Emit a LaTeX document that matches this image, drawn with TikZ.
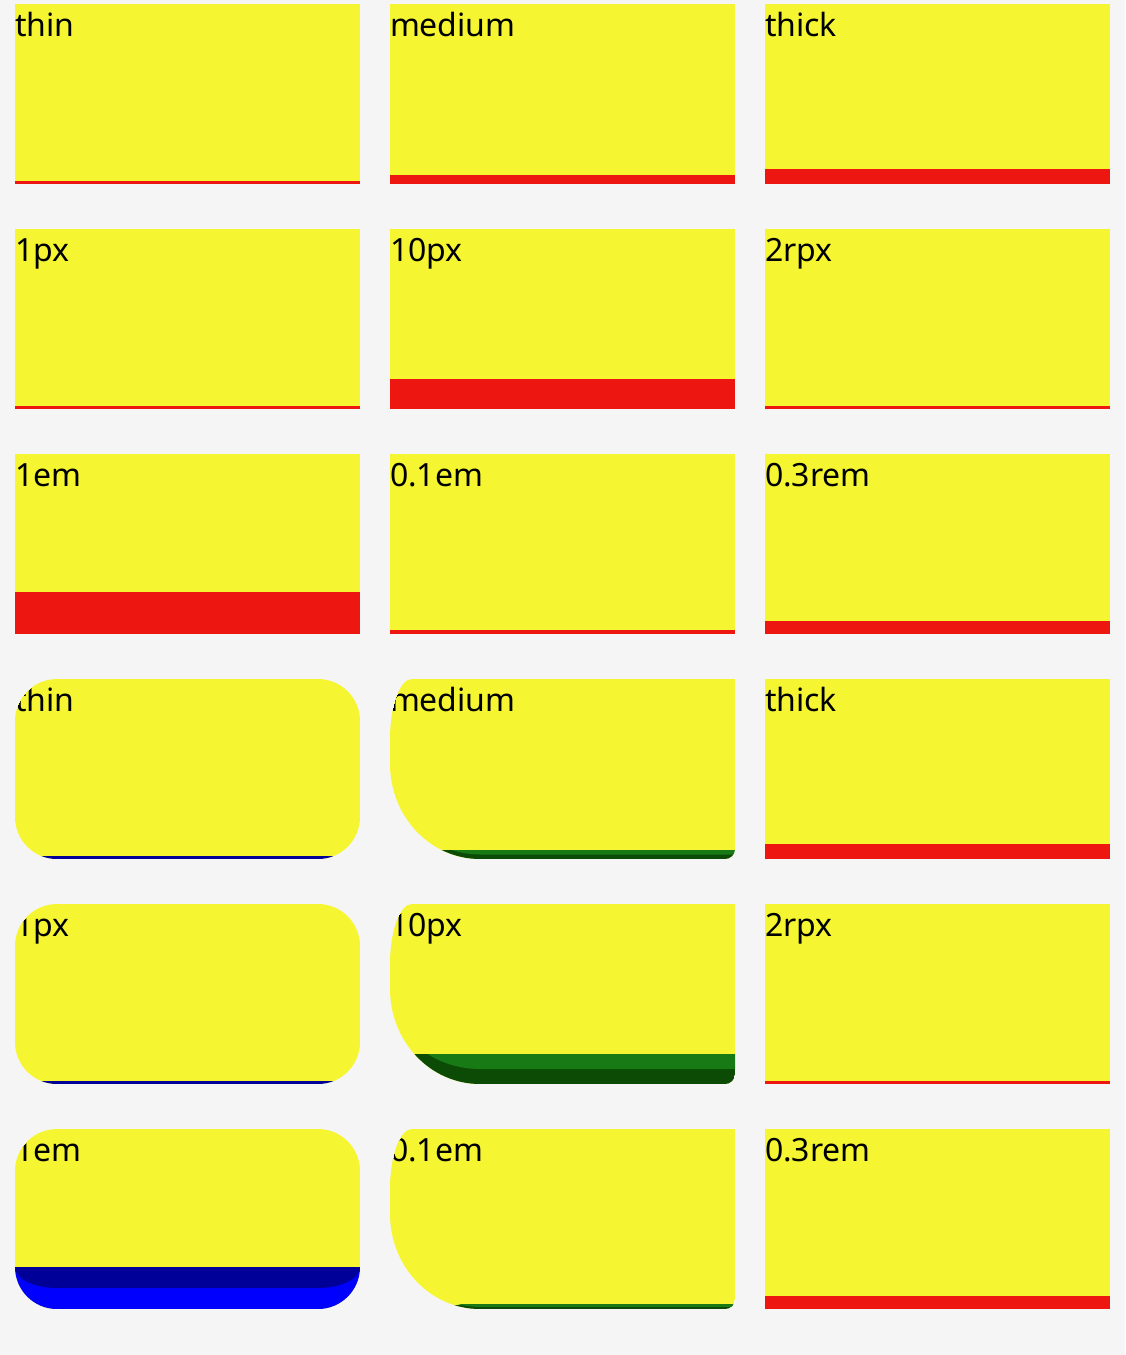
\documentclass[tikz,border=0pt]{standalone}
\usepackage{fontspec}
\setmainfont{Noto Sans}
\definecolor{bgc}{HTML}{F5F5F5}
\definecolor{yel}{HTML}{F5F532}
\definecolor{redc}{HTML}{EE1611}
\definecolor{blueD}{HTML}{000099}
\definecolor{blueL}{HTML}{0000FF}
\definecolor{greenL}{HTML}{187A14}
\definecolor{greenD}{HTML}{0B4B06}
\tikzset{
  lbl/.style={anchor=base west,inner sep=0pt,outer sep=0pt,font=\fontsize{32}{38}\selectfont,text=black},
  gshape/.style={insert path={(22,0) -- (345,0) -- (345,170) .. controls (345,175.5) and (340.5,180) .. (335,180) -- (90,180) .. controls (40.3,180) and (0,137.5) .. (0,85) -- (0,60) .. controls (0,27) and (9.8,0) .. (22,0) -- cycle}},
}
% plain box: x, y, band, label, name
\newcommand\myplain[5]{%
  \fill[yel] (#1,#2) rectangle ++(345,180);
  \fill[redc] (#1,#2+180-#3) rectangle (#1+345,#2+180);
  \node[lbl] (#5) at (#1,#2+32) {#4};
}
% rounded blue box (thin): x, y, label, name
\newcommand\myblue[4]{%
  \begin{scope}[shift={(#1,#2)}]
    \clip[rounded corners=42pt] (0,0) rectangle (345,180);
    \fill[yel] (0,0) rectangle (345,180);
    \fill[blueD] (0,177) rectangle (345,180);
    \node[lbl] (#4) at (0,32) {#3};
  \end{scope}
}
% green box: x, y, band, label, name
\newcommand\mygreen[5]{%
  \begin{scope}[shift={(#1,#2)}]
    \clip[gshape];
    \fill[yel] (0,0) rectangle (345,180);
    \fill[greenD] (0,180-#3) rectangle (345,180);
    \begin{scope}
      \clip (0,180-#3) rectangle (345,180);
      \fill[greenL] (0,0) -- (345,0) -- (345,180-#3/2) -- (90,180-#3/2)
        .. controls (40.3,180-#3/2) and (0,{85+0.5523*(95-#3/2)}) .. (0,85) -- cycle;
    \end{scope}
    \node[lbl] (#5) at (0,32) {#4};
  \end{scope}
}
\begin{document}
\begin{tikzpicture}[x=1pt,y=-1pt]
\useasboundingbox (0,0) rectangle (1125,1355);
\fill[bgc] (0,0) rectangle (1125,1355);
% rows 1-3
\myplain{15}{4}{3}{thin}{a1}
\myplain{390}{4}{9}{medium}{a2}
\myplain{765}{4}{15}{thick}{a3}
\myplain{15}{229}{3}{1px}{b1}
\myplain{390}{229}{30}{10px}{b2}
\myplain{765}{229}{3}{2rpx}{b3}
\myplain{15}{454}{42}{1em}{c1}
\myplain{390}{454}{4.2}{0.1em}{c2}
\myplain{765}{454}{13}{0.3rem}{c3}
% rows 4-6
\myblue{15}{679}{thin}{d1}
\mygreen{390}{679}{9}{medium}{d2}
\myplain{765}{679}{15}{thick}{d3}
\myblue{15}{904}{1px}{e1}
\mygreen{390}{904}{30}{10px}{e2}
\myplain{765}{904}{3}{2rpx}{e3}
\begin{scope}[shift={(15,1129)}]
  \clip[rounded corners=42pt] (0,0) rectangle (345,180);
  \fill[yel] (0,0) rectangle (345,180);
  \fill[blueL] (0,138) rectangle (345,180);
  \fill[blueD] (0,138) -- (345,138) .. controls (345,149.6) and (326.2,159) .. (303,159)
    -- (42,159) .. controls (18.8,159) and (0,149.6) .. (0,138) -- cycle;
  \node[lbl] (f1) at (0,32) {1em};
\end{scope}
\mygreen{390}{1129}{4.2}{0.1em}{f2}
\myplain{765}{1129}{13}{0.3rem}{f3}
\end{tikzpicture}
\end{document}
